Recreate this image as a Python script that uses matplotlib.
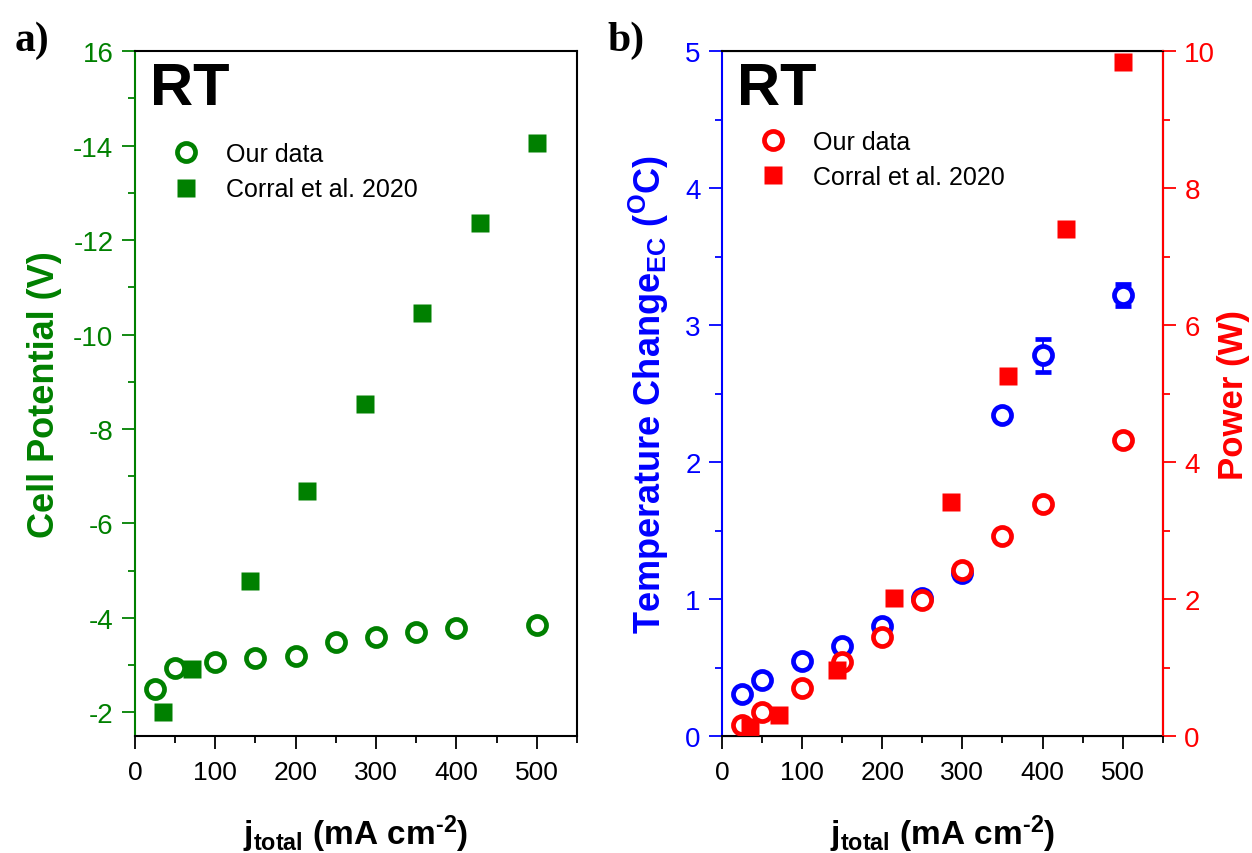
import numpy as np
import matplotlib.pyplot as plt
from matplotlib.ticker import MultipleLocator

plt.rcParams['font.family'] = ['Liberation Sans', 'DejaVu Sans']
plt.rcParams['mathtext.fontset'] = 'custom'
plt.rcParams['mathtext.rm'] = 'Liberation Sans:bold'
plt.rcParams['mathtext.bf'] = 'Liberation Sans:bold'
plt.rcParams['mathtext.default'] = 'bf'

GREEN = '#008000'
BLUE = '#0000FF'
RED = '#FF0000'

# current density (mA cm-2)
j_ours = [25, 50, 100, 150, 200, 250, 300, 350, 400, 500]
j_corral = [35, 71, 143, 214, 286, 357, 429, 500]

# panel a: cell potential (V)
cell_ours = [-2.49, -2.93, -3.06, -3.16, -3.2, -3.5, -3.59, -3.71, -3.78, -3.84]
cell_corral = [-2.0, -2.91, -4.79, -6.69, -8.53, -10.46, -12.36, -14.05]
cell_ticks = [-2, -4, -6, -8, -10, -12, -14, -16]
cell_ticklabels = ['-2', '-4', '-6', '-8', '-10', '-12', '-14', '16']

# panel b: temperature change (C) and power (W)
temp_ours = [0.31, 0.41, 0.55, 0.66, 0.80, 1.01, 1.19, 2.34, 2.78, 3.22]
temp_err = [0.02, 0.0, 0.0, 0.0, 0.02, 0.0, 0.0, 0.0, 0.12, 0.08]
power_ours = [0.16, 0.35, 0.70, 1.08, 1.45, 1.99, 2.42, 2.92, 3.39, 4.32]
power_corral = [0.13, 0.31, 0.96, 2.01, 3.42, 5.26, 7.40, 9.84]

xlab = r'j$_{total}$ (mA cm$^{\text{-}2}$)'

fig = plt.figure(figsize=(12.52, 8.54), dpi=100)
ax1 = fig.add_axes([0.1078, 0.137, 0.353, 0.802])
ax2 = fig.add_axes([0.5767, 0.137, 0.352, 0.802])


def style_y(ax, color):
    ax.tick_params(axis='y', which='both', colors=color, labelsize=20, width=1.3, pad=6)
    ax.tick_params(axis='y', which='major', length=9.5)
    ax.tick_params(axis='y', which='minor', length=5)


def style_x(ax):
    ax.set_xlim(0, 550)
    ax.xaxis.set_major_locator(MultipleLocator(100))
    ax.xaxis.set_minor_locator(MultipleLocator(50))
    ax.tick_params(axis='x', which='both', labelsize=19, width=1.3, pad=8)
    ax.tick_params(axis='x', which='major', length=9.5)
    ax.tick_params(axis='x', which='minor', length=5)
    ax.set_xlabel(xlab, fontsize=24, fontweight='bold', labelpad=20)
    for s in ax.spines.values():
        s.set_linewidth(1.5)


# ---- panel a ----
ax1.plot(j_ours, cell_ours, 'o', ms=13, mfc='white', mec=GREEN, mew=3.4, label='Our data')
ax1.plot(j_corral, cell_corral, 's', ms=13, color=GREEN, mec='none', label='Corral et al. 2020')
ax1.set_ylim(-1.5, -16)
ax1.set_yticks(cell_ticks)
ax1.set_yticklabels(cell_ticklabels)
ax1.yaxis.set_minor_locator(MultipleLocator(1))
style_y(ax1, GREEN)
ax1.spines['left'].set_color(GREEN)
ax1.set_ylabel('Cell Potential (V)', fontsize=26, fontweight='bold', color=GREEN, labelpad=8)
style_x(ax1)
ax1.text(0.035, 0.985, 'RT', transform=ax1.transAxes, fontsize=43, fontweight='bold', va='top')
ax1.legend(loc='upper left', bbox_to_anchor=(0.03, 0.9), frameon=False, fontsize=18,
           handletextpad=1.0, labelspacing=0.45, handlelength=1.2)
fig.text(0.012, 0.975, 'a)', fontsize=30, fontweight='bold', family='Liberation Serif', va='top')

# ---- panel b ----
ax2.errorbar(j_ours, temp_ours, yerr=temp_err, fmt='o', ms=13, mfc='white', mec=BLUE, mew=3.4,
             ecolor=BLUE, elinewidth=1.3, capsize=6, capthick=1.3)
ax2.set_ylim(0, 5)
ax2.yaxis.set_major_locator(MultipleLocator(1))
ax2.yaxis.set_minor_locator(MultipleLocator(0.5))
style_y(ax2, BLUE)
ax2.spines['left'].set_color(BLUE)
ax2.set_ylabel(r'Temperature Change$_{EC}$ ($^{O}$C)', fontsize=26,
               fontweight='bold', color=BLUE, labelpad=10)
style_x(ax2)

ax3 = ax2.twinx()
ax3.plot(j_ours, power_ours, 'o', ms=13, mfc='white', mec=RED, mew=3.4, label='Our data')
ax3.plot(j_corral, power_corral, 's', ms=13, color=RED, mec='none', label='Corral et al. 2020')
ax3.set_ylim(0, 10)
ax3.yaxis.set_major_locator(MultipleLocator(2))
ax3.yaxis.set_minor_locator(MultipleLocator(1))
style_y(ax3, RED)
ax3.spines['right'].set_color(RED)
ax3.spines['right'].set_linewidth(1.5)
ax3.spines['left'].set_visible(False)
ax3.set_ylabel('Power (W)', fontsize=25, fontweight='bold', color=RED, labelpad=1)
ax3.text(0.035, 0.985, 'RT', transform=ax3.transAxes, fontsize=43, fontweight='bold', va='top')
ax3.legend(loc='upper left', bbox_to_anchor=(0.03, 0.918), frameon=False, fontsize=18,
           handletextpad=1.0, labelspacing=0.45, handlelength=1.2)
fig.text(0.485, 0.975, 'b)', fontsize=30, fontweight='bold', family='Liberation Serif', va='top')

fig.savefig('out.png', dpi=100)
